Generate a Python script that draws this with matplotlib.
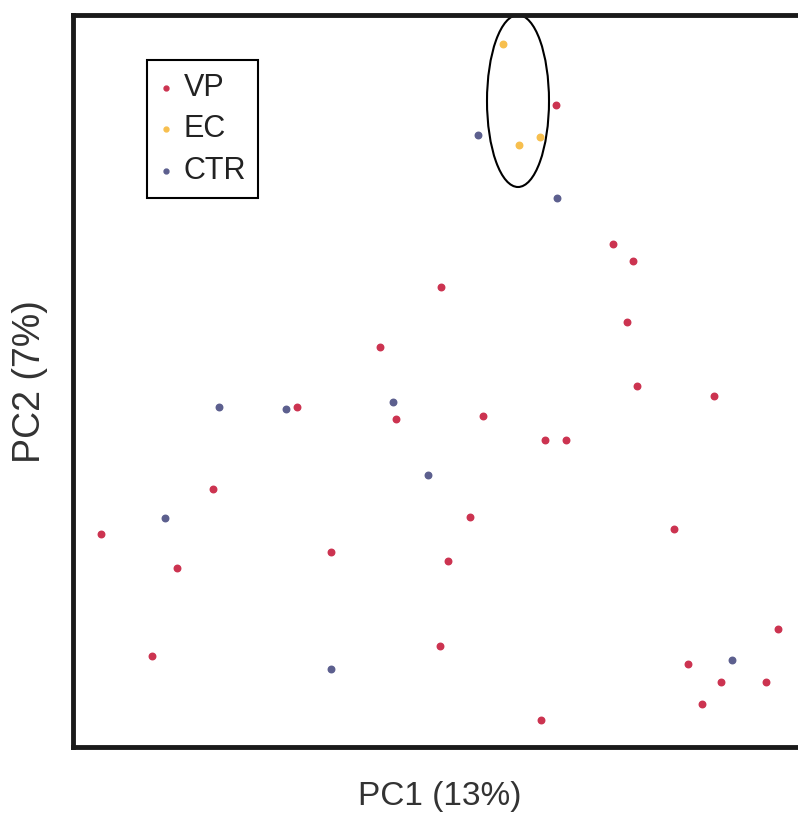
import matplotlib.pyplot as plt
from matplotlib.patches import Ellipse

plt.rcParams['font.family'] = ['Liberation Sans', 'DejaVu Sans']

# PCA scores (arbitrary units)
vp_pc1 = [483, 540, 560, 368, 554, 307, 564, 224, 641, 323, 410, 472, 493,
          140, 397, 601, 28, 258, 375, 104, 705, 79, 367, 615, 648, 693, 629, 468]
vp_pc2 = [642, 503, 486, 460, 425, 400, 361, 340, 351, 328, 331, 307, 307,
          258, 230, 218, 213, 195, 186, 179, 118, 91, 101, 83, 65, 65, 43, 27]

ec_pc1 = [430, 446, 467]
ec_pc2 = [703, 602, 610]

ctr_pc1 = [405, 484, 146, 213, 320, 355, 92, 258, 659]
ctr_pc2 = [612, 549, 340, 338, 345, 272, 229, 78, 87]

fig = plt.figure(figsize=(7.98, 8.18), dpi=100)
ax = fig.add_axes([73 / 798, 1 - 747 / 818, 1 - 73 / 798, (747 - 15) / 818])

ax.scatter(vp_pc1, vp_pc2, s=22, color="#cc3350", label="VP", zorder=3)
ax.scatter(ec_pc1, ec_pc2, s=22, color="#f7bf4e", label="EC", zorder=3)
ax.scatter(ctr_pc1, ctr_pc2, s=22, color="#5c5f8e", label="CTR", zorder=3)

# circle the EC group
ax.add_patch(Ellipse((445, 646), 62, 172, fill=False, color="black", lw=1.5))

ax.set_xlim(0, 725)
ax.set_ylim(0, 732)
ax.set_xticks([])
ax.set_yticks([])
for side in ["left", "bottom", "top"]:
    ax.spines[side].set_linewidth(3.5)
    ax.spines[side].set_color("#1a1a1a")
ax.spines["right"].set_visible(False)

# axis labels placed in figure coordinates
fig.text(440 / 798, 1 - 797 / 818, "PC1 (13%)", fontsize=24, color="#333333",
         ha="center", va="center")
fig.text(30 / 798, 1 - 382 / 818, "PC2 (7%)", fontsize=27, color="#333333",
         ha="center", va="center", rotation=90)

leg = ax.legend(loc="upper left", bbox_to_anchor=(0.102, 0.938), borderaxespad=0,
                fontsize=22, markerscale=0.75, handletextpad=0.35, handlelength=0.45,
                labelspacing=0.38, fancybox=False, framealpha=1, edgecolor="black",
                borderpad=0.4)
leg.get_frame().set_linewidth(1.5)
for t in leg.get_texts():
    t.set_color("#222222")

fig.savefig("out.png", dpi=100)
